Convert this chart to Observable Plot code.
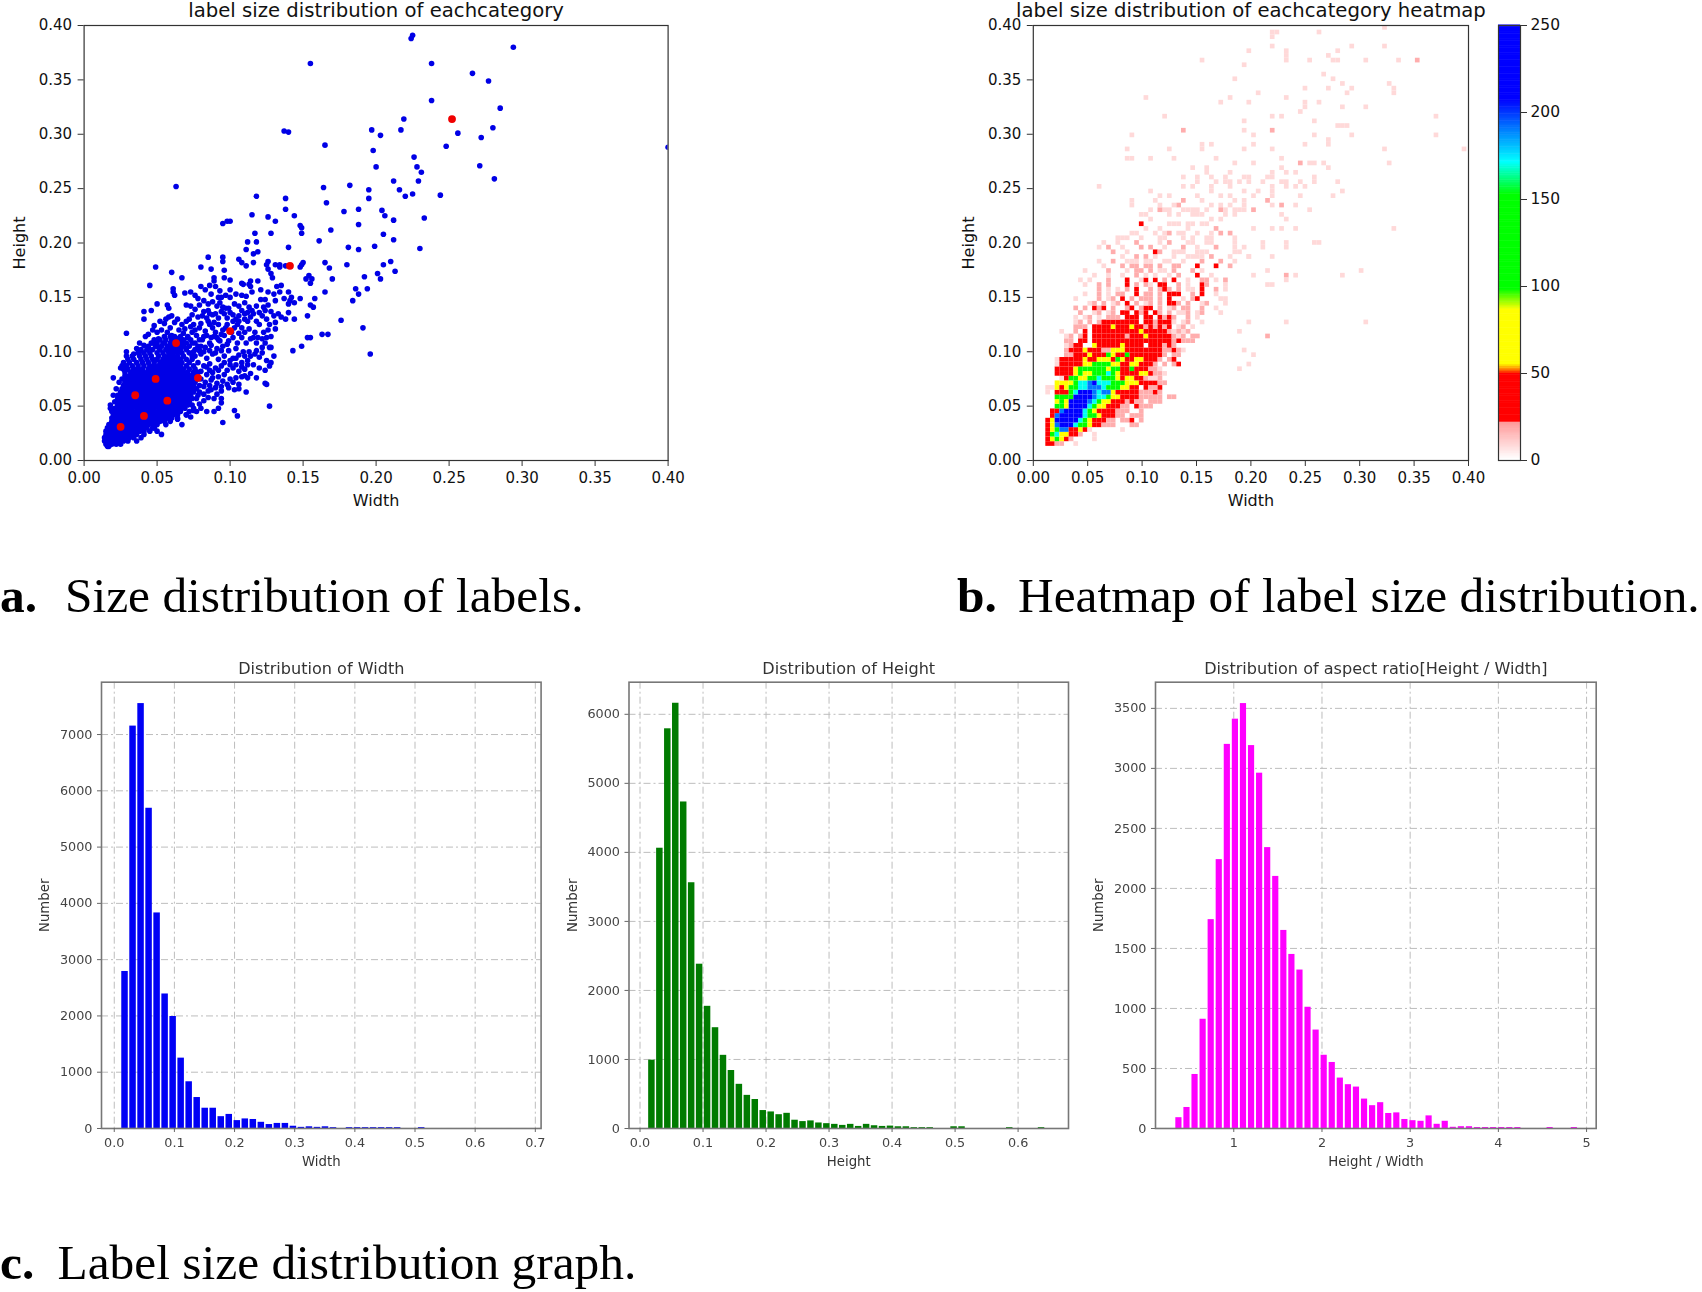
<!DOCTYPE html>
<html>
<head>
<meta charset="utf-8">
<script src="https://cdn.jsdelivr.net/npm/d3@7"></script>
<script src="https://cdn.jsdelivr.net/npm/@observablehq/plot@0.6"></script>
<style>
  body { margin: 0; background: #fff; }
  #page { position: relative; width: 1702px; height: 1292px; overflow: hidden; }
  .panel { position: absolute; }
  .panel svg { overflow: visible; background: transparent; display: block; }
  .soft { filter: blur(0.55px); }
  .caption { position: absolute; font: 49.4px "Liberation Serif", serif; color: #000; white-space: pre; line-height: 1; }
  b.caption { font-weight: bold; }
</style>
</head>
<body>
<div id="page"></div>
<script>
// all scatter values are in thousandths of the image size: [width, height]
const sparsePoints = [
  [224,388],[225,391],[294,380],[155,365],[238,365],[266,356],[277,349],[238,331],[285,324],[219,314],
  [217,304],[197,304],[203,299],[137,303],[140,302],[256,301],[280,306],[272,297],[248,289],[165,290],
  [400,288],[198,285],[226,279],[228,270],[231,265],[271,271],[200,270],[281,259],[63,252],[212,257],
  [229,257],[164,251],[182,253],[195,249],[216,249],[225,245],[220,243],[244,244],[118,243],[138,241],
  [195,241],[166,237],[138,231],[188,231],[204,230],[178,229],[206,225],[144,225],[115,226],[126,224],
  [233,223],[212,221],[131,220],[98,220],[100,220],[95,218],[148,216],[149,214],[188,217],[169,212],
  [149,209],[117,209],[128,209],[205,208],[161,202],[212,203],[112,201],[118,201],[199,197],[181,196],
  [140,196],[188,194],[230,195],[111,194],[116,190],[119,192],
  [85,187],[95,187],[95,183],[80,178],[87,176],[49,178],[60,173],[96,175],[106,185],[108,182],[111,179],
  [116,182],[126,183],[125,180],[126,176],[134,180],[138,179],[131,180],[134,178],[148,178],[150,182],
  [149,180],[165,182],[168,177],[180,180],[205,180],[210,183],[201,172],[213,174],[192,169],[170,167],
  [203,167],[194,158],[186,158],[188,153],[184,147],[165,155],[176,129],[191,122],[196,98],[154,170],
  [152,167],[156,167],[155,163],[158,149],[148,149],[155,143],[157,141],[153,133],[140,136],[144,130],
  [155,113],[153,113],[149,105],[163,116],[167,116],[143,101],
  [67,168],[45,161],[61,158],[61,155],[62,152],[69,154],[78,149],[82,147],[83,157],[89,168],[89,165],
  [90,160],[94,150],[92,150],[96,168],[100,166],[100,157],[100,150],[108,163],[109,162],[113,162],
  [114,165],[119,165],[115,155],[114,160],[124,148],[121,148],[129,168],[128,172],[132,160],[135,161],
  [130,153],[134,155],[140,155],[142,150],[141,147],[140,144],[144,145],[137,149],[131,147],
  [50,144],[57,143],[58,140],[70,143],[73,142],[76,139],[82,137],[85,138],[86,135],[88,134],[90,135],
  [95,141],[97,140],[99,140],[96,135],[100,136],[108,138],[110,135],[112,136],[115,138],[116,135],
  [106,133],[104,130],[122,133],[125,130],[128,137],[130,133],[133,135],[135,132],[138,130],[46,138],
  [41,137],[41,130],[52,128],[56,130],[58,132],[60,133],[64,130],[67,125],[70,128],[72,130],[75,125],
  [80,126],[85,128],[88,122],[92,125],[95,120],[98,125],[102,128],[105,125],[108,122],[112,128],[117,118],
  [120,125],[123,118],[126,120],[128,114],
  [29,117],[42,114],[44,116],[47,120],[50,118],[53,120],[57,118],[60,115],[64,112],[68,117],[71,113],
  [74,118],[77,115],[81,111],[84,115],[87,113],[90,118],[93,110],[96,115],[99,110],[102,113],[105,108],
  [108,113],[111,108],[114,112],[118,108],[124,108],[128,104],[122,104],[130,96],[127,104],[38,108],
  [41,106],[44,104],[47,108],[51,104],[54,108],[58,103],[66,106],[70,103],[74,108],[78,105],[83,104],
  [87,106],[91,103],[95,105],[99,101],[104,103],[109,100],[113,100],[117,98],[120,95],[125,92],[128,90],
  [80,98],[84,94],[88,98],[92,93],[96,96],[100,92],[104,94],[108,90],[112,92],[116,88],[120,85],[124,83],
  [127,87],[78,90],[82,87],[86,89],[90,85],[94,87],[98,83],[102,85],[106,82],[110,84],[114,80],[118,76],
  [124,71],[125,70],[80,82],[84,79],[88,81],[92,77],[96,79],[100,75],[104,76],[108,77],[112,76],[110,78],
  [83,72],[87,74],[91,71],[95,73],[99,67],[103,65],[106,66],[111,63],[87,65],[91,61],[94,64],[85,58],
  [89,57],[82,55],[94,57],[94,53],[92,48],[89,45],[127,50],[103,46],[105,41],[95,35],[84,45],[80,48],
  [77,45],[79,52],[75,46],[73,40],[70,42],[64,38],[48,30],
  [20,76],[24,72],[22,66],[20,60],[29,100],[29,96],[27,88],[25,85],[36,103],[38,100],[34,98],
  // second pass over the busy middle
  [48,124],[51,112],[55,126],[59,122],[62,127],[65,120],[69,121],[73,123],[76,120],[79,122],[83,119],
  [86,125],[89,127],[91,113],[94,116],[97,122],[101,118],[103,122],[106,117],[110,118],[113,121],[116,113],
  [119,113],[122,112],[125,113],[74,134],[78,132],[81,133],[84,131],[92,131],[94,137],[98,131],[102,134],
  [106,128],[110,130],[114,132],[118,128],[120,136],[124,138],[127,125],[131,121],[131,127],[79,143],[85,144],
  [88,146],[91,142],[93,145],[103,144],[106,142],[110,145],[113,141],[118,142],[123,141],[126,143],[87,153],
  [93,156],[97,152],[104,153],[108,152],[111,151],[121,157],[126,155],[73,155],[76,152],[80,160],[86,161],
  [102,94],[106,97],[110,96],[114,96],[118,101],[122,99],[98,107],[86,101],[90,99],[94,101],[100,88],
  [104,88],[108,86],[112,88],[96,90],[92,83],[88,76],[94,68],[98,70],[102,72],[106,70],[90,67],[86,69],
  [82,61],[85,64],[82,68],[80,75],[84,86],[86,83],[76,96],[79,101],[82,100],[75,100]
];
// dense core: first number of each row is the height, the rest are widths
const denseRows = [
  [13,16,17],[15,15,17,19,22,25],[18,14,16,18,20,22,24,27,30,36],
  [21,14,16,18,21,23,25,28,31,34,39],[24,15,17,19,21,24,27,30,33,36,41,53],
  [27,15,18,20,23,26,29,32,35,38,41,45,50],[30,16,19,22,25,28,31,34,37,40,43,47,48],
  [33,17,20,23,26,29,32,35,38,41,44,47,50,56,67],
  [36,19,22,25,28,31,34,37,40,43,46,49,52,55,59],
  [39,19,21,24,27,30,33,36,39,42,45,48,51,54,57,60,64],
  [42,20,22,25,28,31,34,37,40,43,46,49,52,55,58,61,64,70],
  [45,19,22,24,27,30,33,36,39,42,45,48,51,54,57,60,63,66,72],
  [48,18,21,24,27,30,33,36,39,42,45,48,51,54,57,60,63,66,69,75],
  [51,18,23,26,29,32,35,38,41,44,47,50,53,56,59,62,65,68,71,74],
  [54,21,24,27,30,33,36,39,42,45,48,51,54,57,60,63,66,69,72],
  [57,23,26,29,32,35,38,41,44,47,50,53,56,59,62,65,68,71,74,77],
  [60,23,25,28,31,34,37,40,43,46,49,52,55,58,61,64,67,70,73,78],
  [63,25,27,30,33,36,39,42,45,48,51,54,57,60,63,66,69,72,75,79],
  [66,26,29,32,35,38,41,44,47,50,53,56,59,62,65,68,71,74,77],
  [69,27,30,33,36,39,42,45,48,51,54,57,60,63,66,69,72,75,79],
  [72,28,31,34,37,40,43,46,49,52,55,58,61,64,67,70,73,76],
  [75,26,29,32,35,38,41,44,47,50,53,56,59,62,65,68,71,74,78],
  [78,28,31,34,37,40,43,46,49,52,55,58,61,64,67,70,73,76],
  [81,28,32,35,38,41,44,47,50,53,56,59,62,65,68,71,75,78],
  [84,27,30,34,37,40,44,47,50,53,56,59,62,65,68,72,76],
  [87,26,29,33,37,41,45,48,51,54,57,60,63,66,70,75],
  [90,27,31,36,40,44,48,52,55,58,61,64,67,72],
  [93,30,34,39,43,47,50,54,57,60,63,66,70,74],
  [96,33,38,42,46,51,55,58,61,64,68,74],
  [99,37,41,45,50,54,58,61,64,67,72],
  [102,39,43,47,52,56,60,63,66,70,76],
  [105,44,49,53,57,60,63,66,68,72,80],[108,46,50,55,59,61,64,67,70,76,86],
  [111,48,52,56,60,63,65,68,73,79,92],[114,55,59,62,66,71,82,89]
];
const categoryMeans = [[25,31],[35,60],[41,41],[49,75],[57,55],[63,108],[78,76],[100,119],[141,179],[252,314]];

// heatmap rows from the bottom, one character per bin
const heatBin = 0.0043, heatX0 = 0.0115, heatY0 = 0.013;
const heatLevels = {a: 8, b: 17, r: 35, y: 70, g: 125, c: 170, l: 190, d: 235};
const heatRows = [
  "rrbb..a",
  "rygyrb....a",
  "rgcyyrrb..a",
  "rygllrryra......a",
  "ryldddcggyrrbbb...bb",
  "rydddddcgyrrrbb.bbr.b",
  ".rldddddcggyrrrbb.bbb",
  ".rrlddddcgyrrrrbbb..b",
  "..ggyddddcgyyrrrbb.rbbb",
  "..ygyddddlcgyyrrrbrbb.bbb",
  "..ggggddddlccgyyrrrrbbbbb.bb",
  "a.rrrgcdddlcllyrrrrrbbbrb",
  "aayryggcclllcgggyyrr.rbbr",
  "..yyyygccldcccgggyyyrrrrbb",
  "...arggyyggcgggyryyrrbaab",
  "..rrrrygyygggcgyrrrryyrbba",
  "..rrrryggggggyggrrgrrrbba",
  "..arrrrryyggggyyrryyrrrb.b.br",
  "..arrrrryrryyyrgyrryyrrrb.br",
  "....bbrrryrrrgyrrgrrrrrrrb.bb",
  "....brrryrrrbbyyyrrrrrrrrbbrba",
  "....abrr..yrrrrryrrrr.rrrbrb",
  "....bb.rr.rrrrrrrrrrrrrrrrrbrbbb",
  "....ab.br.rrrrrrrbrrryrrrrrbab.bb",
  "...a..b.r.rrrrrrrrrryrrrrrbabab",
  "......bbb.rrrryrrryrrbrbrbr.ab.a",
  "......ab.b.brrrrrrrr.rrbrrra.ab..a",
  "......a.ab.a.bbb.rrr.rr.rbrb..b.a",
  ".......b..ab.ab.rr.rbr.rb.b.aab.ab...a",
  "......b.b.rbr.b..br.brr.b.ab.bb..b..a",
  ".........ab.b.ab.r.b.ab.b.rrb.b..ab...a",
  "......a....b.ab.r.b.bbb.b.r..a.br....aa",
  "........a..b.a.bb..r.bb.b.rrr..b.r..a",
  "...........b.a.a.b.r..b.brb.b.aa.r..b.a",
  "........a..b.b...r.b.ba.rr..b.a..rb...a",
  ".......a.a...b...r..ar.r.b.r..a..bb.a.b",
  "..........a..a..a..b.a.a..a.b...r..a",
  "........a....b...a.bb.b.aa.b...b.a",
  "............a...b.bb.bb.b..bb...r...r..b",
  "...........a..b..aaa.aa..aa..a...b...b..a",
  "................a..b.b.a...a..aaaa.b...a",
  "..............b..a.....rb..aaa..aaa.....aa",
  "...........a.b..a...b.b..a...b..a...b...a.a",
  "............a..a...b....a.b...aa..aa....a",
  "...............aaa..a...aa...a.a..aa....a",
  "..................aa...a.ab.aa..a..a.b.b",
  ".....................a..a.....a.....b",
  "....................r.....aaa.aa.aa"
];
// scattered bins away from the core: width, height, level
const heatSparse = [
  [225,393,"a"],[222,393,"a"],[222,390,"a"],[262,393,"a"],[325,398,"a"],[218,381,"a"],[325,381,"a"],[200,377,"a"],
  [235,377,"a"],[280,377,"a"],[294,381,"a"],[232,373,"a"],[271,372,"a"],[156,368,"a"],[235,368,"a"],[254,368,"a"],
  [275,368,"a"],[280,368,"a"],[307,368,"a"],[338,368,"a"],[355,368,"b"],[196,364,"a"],[267,356,"a"],[276,351,"a"],
  [186,351,"a"],[284,347,"a"],[329,347,"a"],[333,344,"a"],[249,343,"a"],[271,343,"a"],[294,343,"a"],[333,339,"a"],
  [209,338,"a"],[289,338,"a"],[102,334,"a"],[183,334,"a"],[235,334,"a"],[174,330,"a"],[200,330,"a"],[249,330,"a"],
  [262,330,"a"],[249,325,"a"],[284,325,"a"],[307,325,"a"],[245,321,"a"],[121,317,"a"],[218,317,"a"],[227,317,"a"],
  [369,317,"a"],[196,312,"a"],[258,312,"a"],[280,308,"a"],[284,308,"a"],[289,308,"a"],[138,304,"b"],[196,304,"a"],
  [218,304,"b"],[93,300,"a"],[205,300,"a"],[258,300,"a"],[294,300,"a"],[369,300,"a"],[271,295,"a"],[156,292,"a"],
  [165,292,"a"],[205,292,"a"],[249,292,"a"],[271,292,"a"],[85,288,"a"],[125,288,"a"],[156,288,"a"],[196,288,"a"],
  [218,288,"a"],[325,288,"a"],[398,288,"a"],[85,279,"a"],[93,279,"a"],[110,279,"a"],[129,279,"a"],[169,279,"a"],
  [227,279,"a"],[187,274,"a"],[245,274,"b"],[254,274,"a"],[258,274,"a"],[267,274,"a"],[329,274,"a"],[147,270,"a"],
  [160,270,"a"],[227,270,"a"],[271,270,"a"],[160,266,"a"],[218,266,"a"],[240,266,"a"],[231,266,"a"],[165,262,"a"],
  [196,262,"a"],[200,262,"a"],[169,257,"a"],[178,257,"a"],[183,257,"a"],[191,257,"a"],[200,257,"a"],[213,257,"a"],
  [227,257,"a"],[231,257,"a"],[258,257,"a"],[280,257,"a"],[165,253,"a"],[138,253,"a"],[62,253,"a"],[183,253,"a"],
  [222,253,"a"],[235,253,"a"],[240,253,"a"],[165,249,"a"],[196,249,"a"],[218,249,"a"],[284,249,"a"],[107,249,"a"],
  [116,245,"a"],[125,245,"a"],[245,245,"a"],[222,245,"a"],[275,245,"a"],[138,240,"b"],[111,240,"a"],[89,240,"a"],
  [214,240,"b"],[196,240,"a"],[93,236,"a"],[134,236,"b"],[165,236,"a"],[174,236,"a"],[183,236,"a"],[196,236,"a"],
  [222,236,"a"],[227,236,"b"],[240,236,"a"],[205,232,"b"],[254,232,"a"],[227,224,"a"],[232,221,"a"],[333,215,"a"],
  [227,215,"a"],[218,215,"a"],[240,215,"a"],[205,211,"a"],[258,202,"a"],[262,198,"a"],[231,202,"a"],[231,194,"a"],
  [222,189,"a"],[213,201,"a"],[213,197,"a"],[200,189,"a"],[200,185,"a"],[205,171,"a"],[214,176,"a"],[235,168,"b"],
  [240,171,"a"],[231,165,"a"],[222,160,"a"],[214,160,"a"],[284,171,"a"],[302,176,"a"],[191,120,"a"],[214,112,"b"],
  [200,129,"a"],[231,129,"a"],[307,129,"a"],[196,100,"a"],[205,96,"a"],[200,87,"a"],[191,82,"a"],
  // band just above the strings
  [116,232,"a"],[120,232,"a"],[125,228,"a"],[116,228,"b"],[138,232,"a"],[143,232,"a"],[147,228,"a"],[152,228,"a"],
  [160,228,"a"],[172,232,"b"],[178,232,"a"],[187,232,"a"],[191,228,"a"],[196,228,"a"],[178,225,"a"],[187,224,"a"],
  [147,224,"a"],[152,224,"a"],[156,224,"a"],[134,224,"a"],[125,224,"a"],[107,228,"a"],[102,226,"a"],[98,224,"a"],
  [107,222,"a"],[165,220,"a"],[174,220,"a"],[140,262,"a"],[150,262,"a"],[175,262,"a"],[183,266,"a"],[205,274,"a"],
  [214,262,"a"],[222,262,"a"],[247,257,"a"],[252,250,"a"],[260,262,"a"],[150,245,"a"],[156,240,"a"],[172,245,"a"],
  [180,245,"a"],[187,240,"a"],[205,245,"a"],[209,249,"a"],[147,253,"a"],[152,257,"a"],[128,236,"a"],[116,236,"a"]
];
const heatColorStops = [0, 21, 22, 49, 52, 55, 86, 98, 152, 171, 207, 250];
const heatColorRange = ["#ffffff", "#ff9a9a", "#ff0000", "#ff0000", "#ff9000", "#ffff00", "#ffff00", "#00ff00", "#00ff00", "#00ffff", "#0000ff", "#0000ff"];
const colorbarTicks = [0, 50, 100, 150, 200, 250];

// histograms
const widthBinStart = 0.0125, widthBinStep = 0.01333, widthBarSize = 0.0108;
const widthCounts = [2790,7150,7550,5690,3830,2390,1990,1250,830,550,360,360,210,250,140,170,160,110,70,90,90,40,20,30,20,30,15,0,15,15,15,15,15,15,15,0,0,15];
const heightBinStart = 0.0137, heightBinStep = 0.01262, heightBarSize = 0.0103;
const heightCounts = [990,4060,5790,6160,4730,3560,2380,1770,1460,1060,840,640,480,420,260,240,200,220,120,100,110,80,70,60,45,60,30,60,40,30,35,25,25,12,12,12,0,0,25,25,0,0,0,0,0,12,0,0,0,12];
const ratioBinStart = 0.343, ratioBinStep = 0.0915, ratioBarSize = 0.07;
const ratioCounts = [90,175,450,910,1740,2240,3200,3410,3540,3190,2960,2340,2100,1650,1450,1320,1010,820,610,550,420,365,345,245,190,215,125,130,75,65,60,105,35,60,10,15,15,8,8,8,8,8,8,0,0,0,8,0,0,8];

const sizeTicks = [0, 0.05, 0.10, 0.15, 0.20, 0.25, 0.30, 0.35, 0.40];
const topFont = "DejaVu Sans", inkGrey = "#444";

const page = document.getElementById("page");
function place(node, left, top, cls) {
  const div = document.createElement("div");
  div.className = "panel" + (cls ? " " + cls : "");
  div.style.left = left + "px";
  div.style.top = top + "px";
  div.append(node);
  page.append(div);
}

const fmt2 = d3.format(".2f");

// axis titles and plot title as text marks so their size can differ from the ticks
function frameLabels({title, titleSize, titleDy, xLabel, yLabel, labelSize, xDy, yDx, fill}) {
  return [
    Plot.text([title], {text: d => d, frameAnchor: "top", lineAnchor: "middle", dy: titleDy, fontSize: titleSize, fill}),
    Plot.text([xLabel], {text: d => d, frameAnchor: "bottom", lineAnchor: "middle", dy: xDy, fontSize: labelSize, fill}),
    Plot.text([yLabel], {text: d => d, frameAnchor: "left", textAnchor: "middle", lineAnchor: "middle", rotate: -90, dx: yDx, fontSize: labelSize, fill})
  ];
}

// shared frame for the two square plots on top, size in page pixels
function topPlot({left, right, width, title, marks, color}) {
  return Plot.plot({
    width, height: 520,
    marginLeft: left, marginRight: width - right, marginTop: 25, marginBottom: 60,
    x: {domain: [0, 0.4]},
    y: {domain: [0, 0.4]},
    color,
    style: {fontFamily: topFont, fontSize: "15px", color: "#111"},
    marks: [
      ...marks,
      Plot.frame({stroke: "#333", strokeWidth: 1.2}),
      Plot.axisX(sizeTicks, {tickFormat: fmt2, tickSize: 6, tickPadding: 6, fontSize: 15, label: null, stroke: "#333"}),
      Plot.axisY(sizeTicks, {tickFormat: fmt2, tickSize: 6, tickPadding: 6, fontSize: 15, label: null, stroke: "#333"}),
      ...frameLabels({title, titleSize: 19.65, titleDy: -14.8, xLabel: "Width", yLabel: "Height", labelSize: 16, xDy: 40.5, yDx: -64, fill: "#111"})
    ]
  });
}

const scatterPoints = sparsePoints.concat(denseRows.flatMap(([h, ...ws]) => ws.map(w => [w, h])));
place(topPlot({
  left: 83.6, right: 667.6, width: 700,
  title: "label size distribution of eachcategory",
  marks: [
    Plot.dot(scatterPoints, {x: d => d[0] / 1000, y: d => d[1] / 1000, r: 2.8, fill: "#0000e6", stroke: "none", clip: true}),
    Plot.dot(categoryMeans, {x: d => d[0] / 1000, y: d => d[1] / 1000, r: 3.9, fill: "#f00000", stroke: "none"})
  ]
}), 0, 0);

const heatCells = heatRows.flatMap((row, r) => Array.from(row).flatMap((ch, c) => ch === "." ? [] : [{c, r, v: heatLevels[ch]}]));
for (const [w, h, level] of heatSparse) {
  heatCells.push({c: Math.floor((w / 1000 - heatX0) / heatBin), r: Math.floor((h / 1000 - heatY0) / heatBin), v: heatLevels[level]});
}
const heatColor = {type: "linear", domain: heatColorStops, range: heatColorRange, interpolate: "rgb", clamp: true};

place(topPlot({
  left: 92.8, right: 528, width: 540,
  title: "label size distribution of eachcategory heatmap",
  color: heatColor,
  marks: [
    Plot.rect(heatCells, {
      x1: d => heatX0 + d.c * heatBin,
      x2: d => heatX0 + (d.c + 1) * heatBin,
      y1: d => heatY0 + d.r * heatBin,
      y2: d => heatY0 + (d.r + 1) * heatBin,
      fill: "v", clip: true
    })
  ]
}), 940, 0);

// colorbar
place(Plot.plot({
  width: 60, height: 520,
  marginLeft: 8, marginRight: 30, marginTop: 25, marginBottom: 60,
  x: {domain: [0, 1], axis: null},
  y: {domain: [0, 250], axis: null},
  color: heatColor,
  style: {fontFamily: topFont, fontSize: "15px", color: "#111"},
  marks: [
    Plot.rect(d3.range(0, 250), {x1: 0, x2: 1, y1: d => d, y2: d => d + 1.3, fill: d => d}),
    Plot.frame({stroke: "#333", strokeWidth: 1.2}),
    Plot.axisY(colorbarTicks, {anchor: "right", tickSize: 6, tickPadding: 4, fontSize: 15.5, label: null, stroke: "#333"})
  ]
}), 1490, 0);

// one histogram of the bottom row
function histogram({left, right, xDomain, yTop, xTicks, yTicks, xFormat, counts, start, step, size, fill, title, xLabel}) {
  const bars = counts.map((count, i) => ({x1: start + i * step, x2: start + i * step + size, count}));
  const grid = {stroke: "#bdbdbd", strokeWidth: 1, strokeDasharray: "7 3 2 3", strokeOpacity: 1};
  return Plot.plot({
    width: right + 40, height: 530,
    marginLeft: left, marginRight: 40, marginTop: 31.7, marginBottom: 530 - 478,
    x: {domain: xDomain},
    y: {domain: [0, yTop]},
    style: {fontFamily: topFont, fontSize: "12.8px", color: inkGrey},
    marks: [
      Plot.gridX(xTicks, grid),
      Plot.gridY(yTicks, grid),
      Plot.rectY(bars, {x1: "x1", x2: "x2", y: "count", fill}),
      Plot.frame({stroke: "#777", strokeWidth: 1.6}),
      Plot.axisX(xTicks, {tickFormat: xFormat, tickSize: 4, tickPadding: 5, fontSize: 12.8, label: null, stroke: "#666", fill: inkGrey}),
      Plot.axisY(yTicks, {tickFormat: d3.format("d"), tickSize: 4, tickPadding: 5, fontSize: 12.8, label: null, stroke: "#666", fill: inkGrey}),
      ...frameLabels({title, titleSize: 16.1, titleDy: -13, xLabel, yLabel: "Number", labelSize: 13.3, xDy: 33.5, yDx: -56.5, fill: "#333"})
    ]
  });
}

place(histogram({
  left: 101, right: 540.6,
  xDomain: [-0.0212, 0.7096], yTop: 7930,
  xTicks: [0, 0.1, 0.2, 0.3, 0.4, 0.5, 0.6, 0.7], yTicks: [0, 1000, 2000, 3000, 4000, 5000, 6000, 7000],
  xFormat: d3.format(".1f"),
  counts: widthCounts, start: widthBinStart, step: widthBinStep, size: widthBarSize, fill: "#0000f5",
  title: "Distribution of Width", xLabel: "Width"
}), 0, 650, "soft");

place(histogram({
  left: 78.5, right: 518,
  xDomain: [-0.0175, 0.68], yTop: 6465,
  xTicks: [0, 0.1, 0.2, 0.3, 0.4, 0.5, 0.6], yTicks: [0, 1000, 2000, 3000, 4000, 5000, 6000],
  xFormat: d3.format(".1f"),
  counts: heightCounts, start: heightBinStart, step: heightBinStep, size: heightBarSize, fill: "#007b00",
  title: "Distribution of Height", xLabel: "Height"
}), 550, 650, "soft");

place(histogram({
  left: 75, right: 515.7,
  xDomain: [0.1126, 5.109], yTop: 3718,
  xTicks: [1, 2, 3, 4, 5], yTicks: [0, 500, 1000, 1500, 2000, 2500, 3000, 3500],
  xFormat: d3.format("d"),
  counts: ratioCounts, start: ratioBinStart, step: ratioBinStep, size: ratioBarSize, fill: "#ff00ff",
  title: "Distribution of aspect ratio[Height / Width]", xLabel: "Height / Width"
}), 1080, 650, "soft");

// captions under the panels
const captionTexts = [
  {markLeft: 0, textLeft: 65, top: 571, mark: "a.", text: "Size distribution of labels."},
  {markLeft: 957, textLeft: 1018, top: 571, mark: "b.", text: "Heatmap of label size distribution."},
  {markLeft: 0, textLeft: 57.5, top: 1238, mark: "c.", text: "Label size distribution graph."}
];
for (const cap of captionTexts) {
  for (const [left, tag, content] of [[cap.markLeft, "b", cap.mark], [cap.textLeft, "span", cap.text]]) {
    const el = document.createElement(tag);
    el.className = "caption";
    el.style.left = left + "px";
    el.style.top = cap.top + "px";
    el.textContent = content;
    page.append(el);
  }
}
</script>
</body>
</html>
